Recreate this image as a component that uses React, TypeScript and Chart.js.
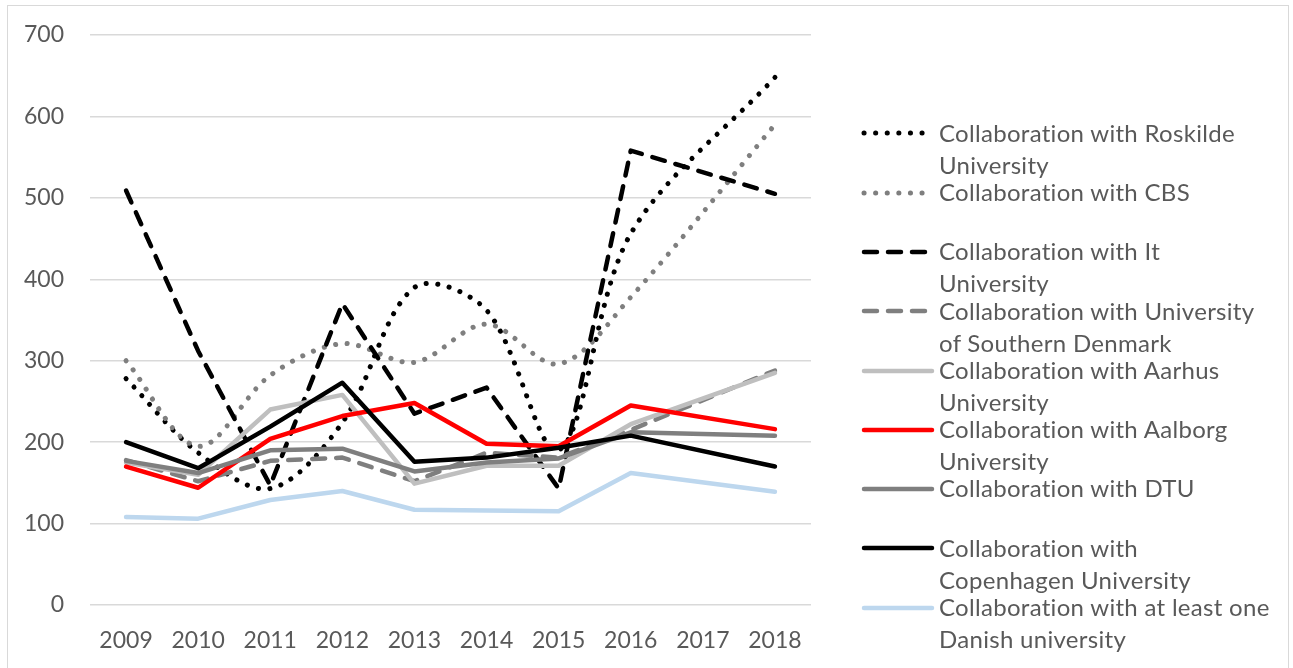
import React, { useEffect, useRef } from 'react';
import { Chart, registerables } from 'chart.js';

Chart.register(...registerables);

// ---------- data ----------
const years = ['2009', '2010', '2011', '2012', '2013', '2014', '2015', '2016', '2017', '2018'];

const roskilde = [278, 187, 143, 224, 390, 362, 190, 456, null, 648];
const cbs = [300, 195, 282, 321, 298, 345, 296, 378, null, 590];
const itUniversity = [509, 312, 147, 370, 235, 267, 143, 558, null, 505];
const southernDenmark = [178, 152, 177, 181, 152, 187, 181, 215, null, 288];
const aarhus = [175, 160, 240, 258, 149, 171, 171, 222, null, 285];
const aalborg = [170, 144, 204, 232, 248, 198, 195, 245, null, 216];
const dtu = [177, 162, 190, 192, 164, 175, 180, 212, null, 208];
const copenhagen = [200, 168, 219, 273, 176, 181, 193, 208, null, 170];
const atLeastOne = [108, 106, 129, 140, 117, 116, 115, 162, null, 139];

const yTicks = [0, 100, 200, 300, 400, 500, 600, 700];

const seriesLabels = [
  ['Collaboration with Roskilde', 'University'],
  ['Collaboration with CBS'],
  ['Collaboration with It', 'University'],
  ['Collaboration with University', 'of Southern Denmark'],
  ['Collaboration with Aarhus', 'University'],
  ['Collaboration with Aalborg', 'University'],
  ['Collaboration with DTU'],
  ['Collaboration with', 'Copenhagen University'],
  ['Collaboration with at least one', 'Danish university'],
];

const seriesValues = [roskilde, cbs, itUniversity, southernDenmark, aarhus, aalborg, dtu, copenhagen, atLeastOne];

// ---------- styles ----------
type Kind = 'dot' | 'dash' | 'solid';
const seriesStyles: { color: string; kind: Kind }[] = [
  { color: '#000000', kind: 'dot' },
  { color: '#7f7f7f', kind: 'dot' },
  { color: '#000000', kind: 'dash' },
  { color: '#7f7f7f', kind: 'dash' },
  { color: '#bfbfbf', kind: 'solid' },
  { color: '#ff0000', kind: 'solid' },
  { color: '#7f7f7f', kind: 'solid' },
  { color: '#000000', kind: 'solid' },
  { color: '#bdd7ee', kind: 'solid' },
];

const DOT_DASH = [0.1, 11.5];
const DASH_DASH = [13, 11];
const TEXT_COLOR = '#595959';
const FONT = 'Lato, "Open Sans", sans-serif';

export default function App() {
  const ref = useRef<HTMLCanvasElement>(null);

  useEffect(() => {
    if (!ref.current) return;
    const n = seriesValues.length;
    const datasets = seriesValues.map((vals, i) => {
      const st = seriesStyles[i];
      return {
        label: seriesLabels[i].join(' '),
        data: vals,
        borderColor: st.color,
        backgroundColor: st.color,
        borderWidth: st.kind === 'dot' ? 5 : 4.5,
        borderDash: st.kind === 'dot' ? DOT_DASH : st.kind === 'dash' ? DASH_DASH : [],
        borderCapStyle: 'round' as const,
        borderJoinStyle: 'round' as const,
        tension: st.kind === 'dot' ? 0.33 : 0,
        pointRadius: 0,
        pointHoverRadius: 0,
        spanGaps: true,
        fill: false,
        order: n - i,
      };
    });

    const chart = new Chart(ref.current, {
      type: 'line',
      data: { labels: years, datasets },
      options: {
        animation: false,
        responsive: false,
        events: [],
        layout: { padding: { left: 0, right: 482, top: 35, bottom: 0 } },
        plugins: { legend: { display: false }, tooltip: { enabled: false }, title: { display: false } },
        scales: {
          x: {
            type: 'category',
            offset: true,
            grid: { display: false },
            border: { display: false },
            ticks: { color: TEXT_COLOR, font: { family: FONT, size: 23 }, padding: 14, maxRotation: 0, autoSkip: false },
            afterFit: (s: any) => { s.height = 63; },
          },
          y: {
            min: yTicks[0],
            max: yTicks[yTicks.length - 1],
            afterBuildTicks: (s: any) => { s.ticks = yTicks.map((v) => ({ value: v })); },
            ticks: { color: TEXT_COLOR, font: { family: FONT, size: 23 }, padding: 26 },
            grid: { color: '#d9d9d9', lineWidth: 1.5, drawTicks: false },
            border: { display: false },
            afterFit: (s: any) => { s.width = 90; s.paddingTop = 0; s.paddingBottom = 0; },
          },
        },
      },
    });
    return () => chart.destroy();
  }, []);

  const legendTop = 133.3;
  const legendStep = 59.3;

  return (
    <div style={{ position: 'fixed', left: 0, top: 0, width: 1293, height: 668, overflow: 'hidden', background: '#fff' }}>
      <div style={{ position: 'absolute', left: 7, top: 5, width: 1282, height: 700, border: '1px solid #d9d9d9', boxSizing: 'border-box' }} />
      <canvas ref={ref} width={1293} height={668} style={{ position: 'absolute', left: 0, top: 0, display: 'block' }} />
      {seriesLabels.map((lines, i) => {
        const st = seriesStyles[i];
        const cy = legendTop + legendStep * i;
        const dash = st.kind === 'dot' ? DOT_DASH.join(' ') : st.kind === 'dash' ? DASH_DASH.join(' ') : undefined;
        return (
          <React.Fragment key={i}>
            <svg style={{ position: 'absolute', left: 858, top: cy - 5, overflow: 'visible' }} width={80} height={10}>
              <line x1={6} y1={5} x2={74} y2={5} stroke={st.color} strokeWidth={st.kind === 'dot' ? 5 : 4.5}
                strokeLinecap="round" strokeDasharray={dash} />
            </svg>
            <div style={{ position: 'absolute', left: 939, top: cy - 16.7, fontFamily: FONT, fontSize: 24, letterSpacing: '0.3px', lineHeight: '32px', color: TEXT_COLOR, whiteSpace: 'nowrap' }}>
              {lines.map((t, j) => (<div key={j}>{t}</div>))}
            </div>
          </React.Fragment>
        );
      })}
    </div>
  );
}
